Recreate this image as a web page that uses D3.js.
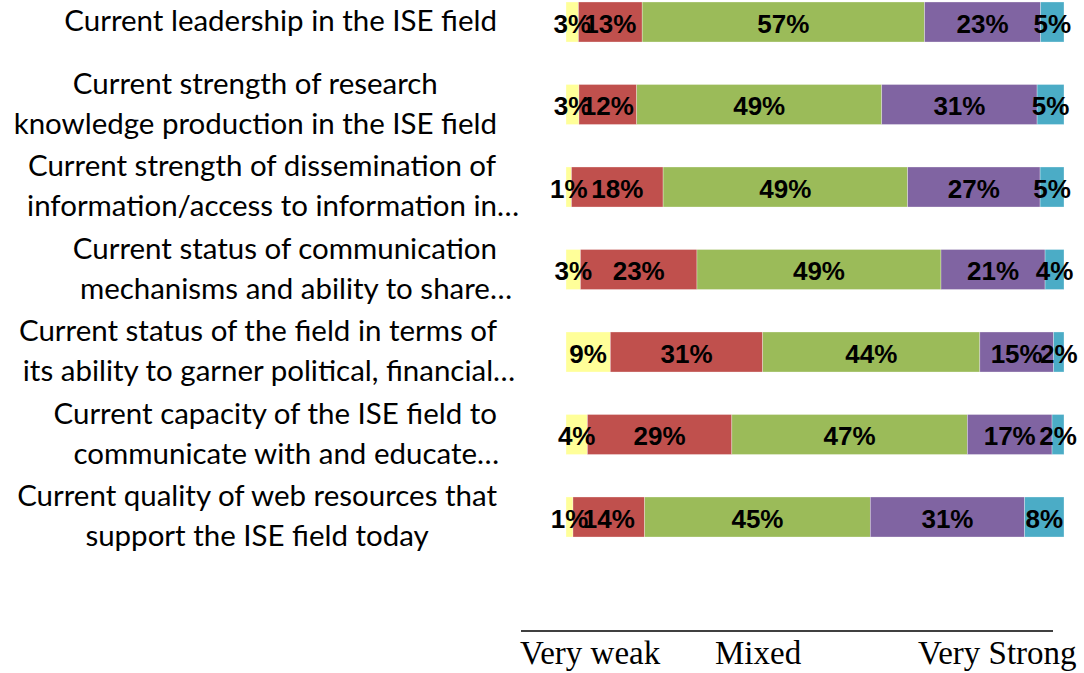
<!DOCTYPE html>
<html>
<head>
<meta charset="utf-8">
<script src="https://cdn.jsdelivr.net/npm/d3@7"></script>
<style>
  body { margin: 0; background: #fff; }
  svg { display: block; }
</style>
</head>
<body>
<div id="chart"></div>
<script>
// categories, one array of wrapped lines per bar (as shown on the chart)
const categories = [
  ["Current leadership in the ISE field"],
  ["Current strength of research", "knowledge production in the ISE field"],
  ["Current strength of dissemination of", "information/access to information in…"],
  ["Current status of communication", "mechanisms and ability to share…"],
  ["Current status of the field in terms of", "its ability to garner political, financial…"],
  ["Current capacity of the ISE field to", "communicate with and educate…"],
  ["Current quality of web resources that", "support the ISE field today"]
];

// series (percent of respondents)
const veryWeak   = [2.5, 2.6, 1.1, 2.9, 8.9, 4.3, 1.4];
const weak       = [12.8, 11.6, 18.4, 23.4, 30.6, 29.0, 14.4];
const mixed      = [56.7, 49.2, 49.1, 49.0, 43.6, 47.3, 45.3];
const strong     = [23.3, 31.2, 26.6, 20.9, 14.8, 17.0, 31.0];
const veryStrong = [4.7, 5.4, 4.8, 3.8, 2.1, 2.4, 7.9];

const seriesNames = ["Very weak", "Weak", "Mixed", "Strong", "Very strong"];
const seriesColors = ["#FFFF99", "#C0504D", "#9BBB59", "#8064A2", "#4BACC6"];

// text under the bars
const scaleLabels = ["Very weak", "Mixed", "Very Strong"];

const W = 1084, H = 673;
const svg = d3.select("#chart").append("svg")
    .attr("width", W)
    .attr("height", H);

const table = categories.map((c, i) => ({
  key: i,
  "Very weak": veryWeak[i],
  "Weak": weak[i],
  "Mixed": mixed[i],
  "Strong": strong[i],
  "Very strong": veryStrong[i]
}));

const stacked = d3.stack().keys(seriesNames)(table);

const x = d3.scaleLinear().domain([0, 100]).range([566, 1064]);
const y = d3.scaleBand()
    .domain(d3.range(categories.length))
    .range([-19.25, 558.25])
    .paddingInner(0.515)
    .paddingOuter(0.2575);

const color = d3.scaleOrdinal().domain(seriesNames).range(seriesColors);

// bars
svg.append("g").selectAll("g")
  .data(stacked)
  .enter().append("g")
    .attr("fill", d => color(d.key))
  .selectAll("rect")
  .data(d => d)
  .enter().append("rect")
    .attr("x", d => x(d[0]))
    .attr("y", d => y(d.data.key))
    .attr("width", d => x(d[1]) - x(d[0]))
    .attr("height", y.bandwidth())
    .attr("stroke", "#ffffff")
    .attr("stroke-opacity", 0.5)
    .attr("stroke-width", 0.6);

// value labels, on top of every bar
svg.append("g")
    .style("font-family", "'Liberation Sans', Arial, sans-serif")
    .style("font-weight", "bold")
    .style("font-size", "26px")
    .attr("fill", "#000")
  .selectAll("text")
  .data(stacked.flat())
  .enter().append("text")
    .attr("x", d => (x(d[0]) + x(d[1])) / 2)
    .attr("y", d => y(d.data.key) + y.bandwidth() / 2 + 10.5)
    .attr("text-anchor", "middle")
    .text(d => Math.round(d[1] - d[0]) + "%");

// category labels: lines centred in a right-aligned block
const labelFont = "Lato, 'Open Sans', sans-serif";
const probe = svg.append("text")
    .style("font-family", labelFont)
    .style("font-size", "100px")
    .text(categories[0][0]);
const labelSize = 100 * 433 / probe.node().getComputedTextLength();
probe.remove();

const labelRight = 497;
const lineGap = 40;

svg.selectAll("g.cat")
  .data(categories)
  .enter().append("g")
    .attr("class", "cat")
    .style("font-family", labelFont)
    .style("font-size", labelSize + "px")
    .attr("fill", "#000")
  .each(function(lines, i) {
    const g = d3.select(this);
    const cy = y(i) + y.bandwidth() / 2;
    const nodes = lines.map((ln, j) => {
      // ellipsis is left out when centring, as the source chart does
      const t = g.append("text").text(ln.replace(/…$/, ""));
      const w = t.node().getComputedTextLength();
      t.text(ln);
      return { t, w, j };
    });
    const blockW = d3.max(nodes, d => d.w);
    const cx = labelRight - blockW / 2;
    const top = cy - (lines.length - 1) * lineGap / 2;
    nodes.forEach(d => {
      d.t.attr("x", cx - d.w / 2)
         .attr("y", top + d.j * lineGap + labelSize * 0.32);
    });
  });

// underline and scale words
svg.append("line")
    .attr("x1", 521).attr("x2", 1053)
    .attr("y1", 631).attr("y2", 631)
    .attr("stroke", "#000")
    .attr("stroke-width", 1.5);

const scaleX = [520, 715, 918];
svg.selectAll("text.scale")
  .data(scaleLabels)
  .enter().append("text")
    .attr("class", "scale")
    .attr("x", (d, i) => scaleX[i])
    .attr("y", 664)
    .attr("fill", "#000")
    .style("font-family", "'Liberation Serif', 'DejaVu Serif', serif")
    .style("font-size", "33px")
    .text(d => d);
</script>
</body>
</html>
